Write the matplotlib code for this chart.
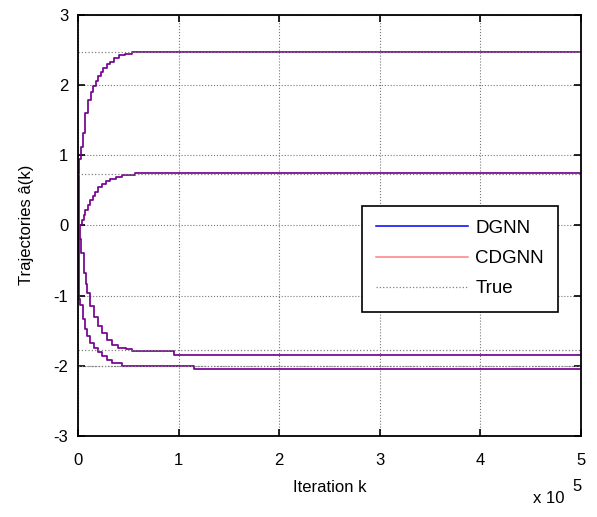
import numpy as np
import matplotlib
matplotlib.use('Agg')
import matplotlib.pyplot as plt
from matplotlib.ticker import FuncFormatter

plt.rcParams['font.family'] = ['Liberation Sans', 'DejaVu Sans']
plt.rcParams['axes.unicode_minus'] = False

# iteration counts and trajectory values
k_a1 = [0, 500, 1300, 2700, 4700, 7000, 9700, 12500, 15300, 18000, 20300, 23000,
        25300, 28500, 32000, 36000, 40300, 47000, 53700, 500000]
a1 = [0, 0.89, 0.95, 1.12, 1.32, 1.60, 1.79, 1.90, 1.98, 2.06, 2.12, 2.19,
      2.24, 2.29, 2.33, 2.38, 2.42, 2.44, 2.465, 2.465]

k_a2 = [0, 2000, 3700, 5500, 7000, 9500, 12000, 14500, 17000, 20000, 23700,
        28000, 32000, 38000, 43700, 57000, 500000]
a2 = [0, 0.0, 0.08, 0.15, 0.22, 0.29, 0.36, 0.42, 0.48, 0.54, 0.59,
      0.63, 0.66, 0.69, 0.71, 0.74, 0.74]

k_a3 = [0, 1500, 3300, 5700, 7500, 9000, 12000, 15700, 20000, 24000, 29000,
        34000, 40000, 47300, 54000, 95000, 500000]
a3 = [0, -0.2, -0.40, -0.68, -0.84, -0.96, -1.15, -1.30, -1.43, -1.53, -1.63,
      -1.70, -1.74, -1.76, -1.79, -1.84, -1.84]

k_a4 = [0, 1000, 2300, 4700, 7000, 9000, 12000, 15700, 20000, 24000, 29000,
        34000, 44000, 115000, 500000]
a4 = [0, -1.05, -1.13, -1.34, -1.48, -1.58, -1.68, -1.75, -1.81, -1.86, -1.92,
      -1.96, -2.00, -2.05, -2.05]

a_true = [2.47, 0.725, -1.77, -2.01]

fig = plt.figure(figsize=(5.97, 5.17), dpi=100)
ax = fig.add_axes([0.1307, 0.1567, 0.8425, 0.815])

curves = [(k_a1, a1), (k_a2, a2), (k_a3, a3), (k_a4, a4)]
for i, (k, a) in enumerate(curves):
    ax.plot(k, a, color='#0000ff', lw=1.1, drawstyle='steps-post',
            label='DGNN' if i == 0 else None)
for i, (k, a) in enumerate(curves):
    ax.plot(k, a, color='#ff0000', lw=1.1, alpha=0.5, drawstyle='steps-post',
            label='CDGNN' if i == 0 else None)
for i, v in enumerate(a_true):
    ax.plot([0, 500000], [v, v], color='#808080', lw=0.9, ls=':',
            label='True' if i == 0 else None)

ax.set_xlim(0, 500000)
ax.set_ylim(-3, 3)
ax.set_xticks([0, 100000, 200000, 300000, 400000, 500000])
ax.set_yticks([-3, -2, -1, 0, 1, 2, 3])
ax.xaxis.set_major_formatter(FuncFormatter(lambda x, p: '%d' % round(x / 1e5)))
ax.grid(True, ls=':', color='#777777', lw=0.8)
ax.tick_params(direction='in', length=5, width=1.2, top=True, right=True,
               labelsize=12)
ax.tick_params(axis='x', pad=12)
ax.tick_params(axis='y', pad=7)
for s in ax.spines.values():
    s.set_linewidth(1.3)

ax.set_xlabel('Iteration k', fontsize=12, labelpad=9)
ax.set_ylabel('Trajectories â(k)', fontsize=12, labelpad=14)
fig.text(0.893, 0.028, 'x 10', fontsize=12)
fig.text(0.958, 0.050, '5', fontsize=12)

leg = ax.legend(loc='upper left', bbox_to_anchor=(0.606, 0.602),
                bbox_transform=fig.transFigure, fontsize=13.5,
                handlelength=4.9, handletextpad=0.4, labelspacing=0.7,
                borderpad=0.75, fancybox=False, framealpha=1, borderaxespad=0)
leg.get_frame().set_edgecolor('black')
leg.get_frame().set_linewidth(1.2)

fig.savefig('out.png', dpi=100)
